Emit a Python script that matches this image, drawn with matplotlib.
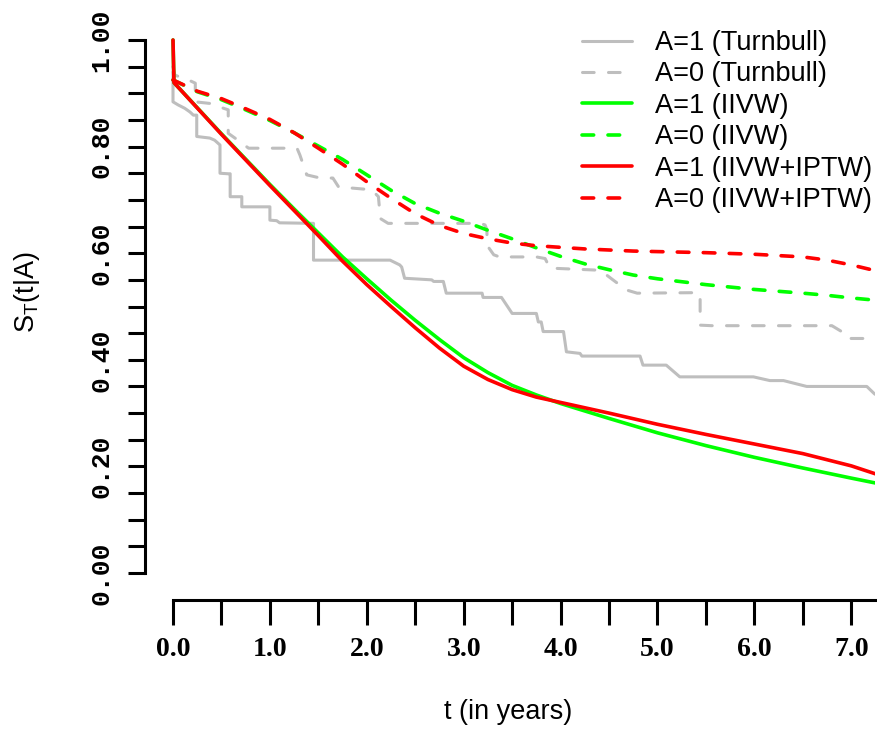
import numpy as np
import matplotlib
matplotlib.use("Agg")
import matplotlib.pyplot as plt

plt.rcParams['font.family'] = ['Liberation Sans', 'DejaVu Sans']
plt.rcParams['mathtext.fontset'] = 'custom'
plt.rcParams['mathtext.rm'] = 'Liberation Sans'
plt.rcParams['mathtext.it'] = 'Liberation Sans:italic'
plt.rcParams['lines.scale_dashes'] = False

# A=1 Turnbull (step curve, vertices)
t_tb1 = [0, 0, 0.055, 0.12, 0.175, 0.21, 0.245, 0.245, 0.38, 0.43, 0.485, 0.485, 0.57, 0.59,
         0.59, 0.71, 0.71, 1.0, 1.0, 1.07, 1.10, 1.45, 1.45, 2.24, 2.34, 2.36, 2.39, 2.67, 2.69,
         2.79, 2.82, 3.19, 3.20, 3.39, 3.50, 3.75, 3.77, 3.80, 3.82, 4.03, 4.06, 4.20, 4.22, 4.82,
         4.85, 5.09, 5.23, 5.99, 6.16, 6.30, 6.54, 7.16, 7.24, 7.30]
s_tb1 = [0.94, 0.884, 0.878, 0.872, 0.865, 0.859, 0.859, 0.819, 0.816, 0.812, 0.803, 0.750, 0.749,
         0.749, 0.706, 0.706, 0.687, 0.687, 0.662, 0.661, 0.657, 0.656, 0.587, 0.587, 0.578, 0.574,
         0.553, 0.550, 0.547, 0.547, 0.525, 0.525, 0.517, 0.517, 0.487, 0.487, 0.471, 0.471, 0.453,
         0.453, 0.415, 0.412, 0.407, 0.407, 0.390, 0.390, 0.368, 0.368, 0.361, 0.361, 0.350, 0.350,
         0.336, 0.330]

# A=0 Turnbull
t_tb0 = [0, 0.02, 0.16, 0.23, 0.23, 0.38, 0.47, 0.57, 0.57, 0.67, 0.78, 1.28, 1.31, 1.38, 1.52,
         1.65, 1.71, 1.86, 2.05, 2.12, 2.14, 2.22, 3.17, 3.22, 3.24, 3.24, 3.31, 3.37, 3.75, 3.84,
         3.89, 4.41, 4.54, 4.68, 4.79, 5.42, 5.44, 5.44, 5.56, 6.80, 6.90, 6.95, 7.30]
s_tb0 = [0.95, 0.934, 0.925, 0.919, 0.884, 0.881, 0.875, 0.869, 0.825, 0.812, 0.797, 0.797, 0.784,
         0.747, 0.741, 0.741, 0.724, 0.722, 0.719, 0.706, 0.665, 0.656, 0.656, 0.653, 0.644, 0.615,
         0.597, 0.593, 0.593, 0.590, 0.572, 0.568, 0.550, 0.531, 0.525, 0.526, 0.522, 0.465, 0.464,
         0.464, 0.453, 0.440, 0.440]

# smooth model curves
t_a1 = [0, 0.01, 0.5, 1.0, 1.25, 1.5, 1.75, 2.0, 2.25, 2.5, 2.75, 3.0, 3.25, 3.5, 3.75, 4.0,
        4.5, 5.0, 5.5, 6.0, 6.5, 7.0, 7.3]
s_iivw1 = [1.0, 0.92, 0.824, 0.729, 0.683, 0.638, 0.593, 0.552, 0.512, 0.474, 0.438, 0.404,
           0.376, 0.352, 0.334, 0.318, 0.290, 0.263, 0.239, 0.217, 0.197, 0.178, 0.167]
s_iptw1 = [1.0, 0.92, 0.823, 0.727, 0.680, 0.633, 0.585, 0.541, 0.500, 0.460, 0.422, 0.388,
           0.363, 0.344, 0.330, 0.320, 0.300, 0.279, 0.260, 0.242, 0.224, 0.201, 0.183]

t_a0 = [0, 0.25, 0.5, 0.75, 1.0, 1.25, 1.5, 1.75, 2.0, 2.25, 2.5, 2.75, 3.0, 3.25, 3.5, 3.75,
        4.0, 4.25, 4.5, 4.75, 5.0, 5.5, 6.0, 6.5, 6.75, 7.0, 7.3]
s_iivw0 = [0.925, 0.903, 0.888, 0.869, 0.849, 0.826, 0.801, 0.776, 0.747, 0.718, 0.693, 0.675,
           0.660, 0.643, 0.627, 0.610, 0.594, 0.580, 0.569, 0.559, 0.552, 0.541, 0.532, 0.525,
           0.521, 0.516, 0.511]
s_iptw0 = [0.925, 0.904, 0.890, 0.871, 0.851, 0.826, 0.797, 0.767, 0.734, 0.703, 0.674, 0.652,
           0.637, 0.627, 0.619, 0.614, 0.611, 0.608, 0.606, 0.604, 0.603, 0.601, 0.598, 0.593,
           0.587, 0.578, 0.565]

labels = ["A=1 (Turnbull)", "A=0 (Turnbull)", "A=1 (IIVW)", "A=0 (IIVW)",
          "A=1 (IIVW+IPTW)", "A=0 (IIVW+IPTW)"]

fig = plt.figure(figsize=(8.78, 7.31), dpi=100)
ax = fig.add_axes([145 / 878, 131 / 731, 730 / 878, 581 / 731])

gray, green, red = '#BEBEBE', '#00FF00', '#FF0000'
dash = (8.4, 10.3)
kw = dict(solid_capstyle='round', dash_capstyle='round', solid_joinstyle='round')
ax.plot(t_tb1, s_tb1, color=gray, lw=2.2, label=labels[0], **kw)
ax.plot(t_tb0, s_tb0, color=gray, lw=2.2, dashes=dash, label=labels[1], **kw)
ax.plot(t_a1, s_iivw1, color=green, lw=2.6, label=labels[2], **kw)
ax.plot(t_a0, s_iivw0, color=green, lw=2.6, dashes=dash, label=labels[3], **kw)
ax.plot(t_a1, s_iptw1, color=red, lw=2.6, label=labels[4], **kw)
ax.plot(t_a0, s_iptw0, color=red, lw=2.6, dashes=dash, label=labels[5], **kw)

for s in ['top', 'right']:
    ax.spines[s].set_visible(False)
ax.spines['left'].set_bounds(0, 1)
ax.spines['bottom'].set_bounds(0, 7.5)
ax.spines['left'].set_linewidth(2.2)
ax.spines['bottom'].set_linewidth(2.2)

xt = np.arange(0, 7.51, 0.5)
ax.set_xticks(xt)
ax.set_xticklabels(["%.1f" % v if v == int(v) else "" for v in xt],
                   fontfamily='Liberation Serif', fontweight='bold', fontsize=20)
yt = np.arange(0, 1.001, 0.05)
ax.set_yticks(yt)
ax.set_yticklabels(["%.2f" % v if round(v * 100) % 20 == 0 else "" for v in yt],
                   fontfamily='Liberation Mono', fontweight='bold', fontsize=19,
                   rotation=90, va='center')
ax.tick_params(axis='x', length=18, width=2.2, pad=9)
ax.tick_params(axis='y', length=12.2, width=2.2, pad=10.4)

# limits after the ticks, so the 7.5 tick does not widen the view
ax.set_xlim(-28 / 96.9, 702 / 96.9)
ax.set_ylim(-27 / 533, 554 / 533)

fig.text(508 / 878, 1 - 719 / 731, 't (in years)', ha='center', va='baseline', fontsize=19.5)
fig.text(27 / 878, 1 - 292 / 731, r'$\mathregular{S_T(t|A)}$', ha='center', va='center',
         rotation=90, fontsize=19.5)

ax.legend(loc='upper left', bbox_to_anchor=(582 / 878, 1 - 30 / 731),
          bbox_transform=fig.transFigure, frameon=False, fontsize=19.5,
          handlelength=1.85, handletextpad=0.85, labelspacing=0.2,
          borderpad=0, borderaxespad=0)

fig.savefig('out.png', dpi=100)
